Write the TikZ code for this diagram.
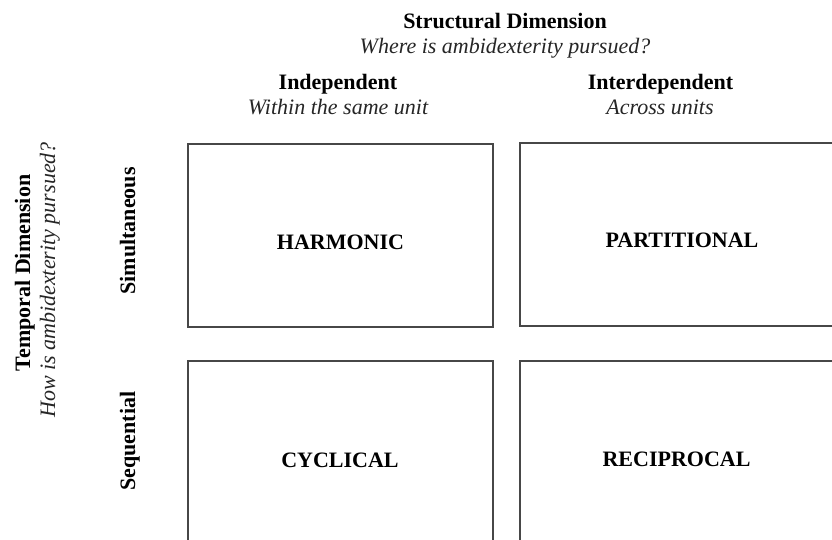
\documentclass[tikz,border=0pt]{standalone}
\usepackage{fontspec}
\setmainfont{Liberation Serif}
\begin{document}
\begin{tikzpicture}[x=1pt,y=-1pt,
  every node/.style={inner sep=0pt,outer sep=0pt,font=\fontsize{22}{26}\selectfont},
  head/.style={font=\fontsize{22}{26}\selectfont\bfseries,anchor=base,text=black},
  sub/.style={font=\fontsize{22}{26}\selectfont\itshape,anchor=base,text=black!85},
  cell/.style={draw=black!72,line width=2pt,anchor=north west},
  celltext/.style={font=\fontsize{22}{26}\selectfont\bfseries,anchor=base,text=black}]
  \useasboundingbox (0,0) rectangle (832,540);
  \clip (0,0) rectangle (832,540);
  \fill[white] (0,0) rectangle (832,540);

  % column headings
  \node[head] (sdim) at (505,29) {Structural Dimension};
  \node[sub]  (sq)   at (505,54) {Where is ambidexterity pursued?};
  \node[head] (indep) at (338,90) {Independent};
  \node[sub]  (indepq) at (338,115) {Within the same unit};
  \node[head] (inter) at (660.5,90) {Interdependent};
  \node[sub]  (interq) at (660,115) {Across units};

  % row headings
  \node[head,rotate=90] (tdim) at (30,273) {Temporal Dimension};
  \node[sub,rotate=90]  (tq)   at (55,280) {How is ambidexterity pursued?};
  \node[head,rotate=90] (simul) at (135,231) {Simultaneous};
  \node[head,rotate=90] (seq)   at (135,441) {Sequential};

  % the four cells
  \node[cell,minimum width=305pt,minimum height=182.5pt] (harm) at (188,144) {};
  \node[cell,minimum width=325pt,minimum height=182pt] (part) at (519.5,143.5) {};
  \node[cell,minimum width=305pt,minimum height=196pt] (cycl) at (188,361) {};
  \node[cell,minimum width=325pt,minimum height=196pt] (reci) at (519.5,361) {};

  \node[celltext] (harmt) at (340.5,249) {HARMONIC};
  \node[celltext] (partt) at (682,247.5) {PARTITIONAL};
  \node[celltext] (cyclt) at (340,467) {CYCLICAL};
  \node[celltext] (recit) at (676.5,466) {RECIPROCAL};
\end{tikzpicture}
\end{document}
